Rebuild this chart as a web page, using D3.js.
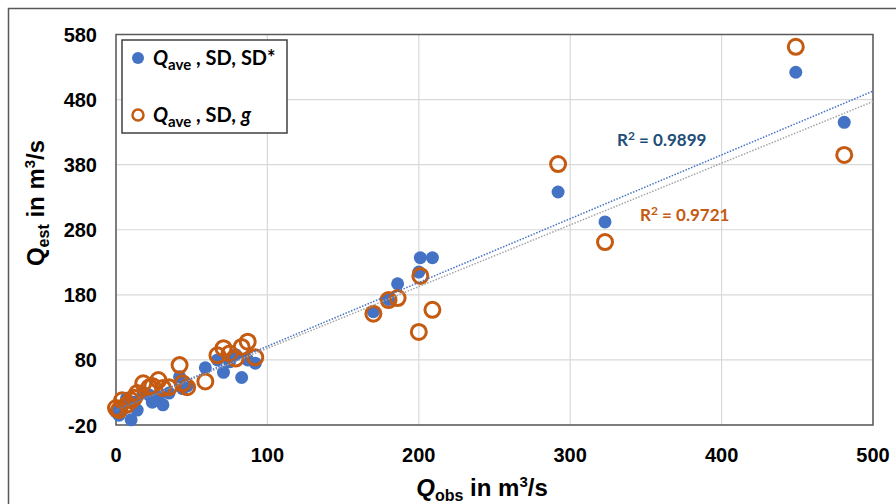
<!DOCTYPE html>
<html>
<head>
    <title>Qest vs Qobs</title>
</head>
<body style="margin:0">
<style type="text/css">
    body { background: #fff; }
    #renderer { width: 896px; height: 504px; background: #fff; display: block; }
    .tick-label { font-family: "Liberation Sans", Arial, sans-serif; font-weight: bold; font-size: 20px; fill: #000; }
    .title { font-family: "Liberation Sans", Arial, sans-serif; font-weight: bold; font-size: 24px; fill: #000; }
    .legend { font-family: Lato, "Open Sans", sans-serif; font-weight: bold; font-size: 20px; fill: #000; }
    .r2 { font-family: Lato, "Open Sans", sans-serif; font-weight: bold; font-size: 17px; }
</style>
<script type="text/javascript" src="https://cdnjs.cloudflare.com/ajax/libs/d3/7.8.5/d3.min.js"></script>
<svg id="renderer"></svg>

<script type="text/javascript">
    // observed discharge (shared by both series)
    var qObs = [449, 481, 292, 323, 201, 200, 209, 186, 180, 170,
                92, 87, 83, 75, 71, 67, 79, 59, 42, 44, 47,
                35, 31, 28, 24, 22, 18, 14, 12, 10, 7, 4, 2, 0];
    // estimate with Qave, SD, SD*
    var qSD = [522, 445, 338, 292, 237, 215, 237, 197, 173, 154,
               75, 80, 53, 77, 61, 80, 88, 68, 54, 36, 40,
               29, 11, 23, 15, 26, 30, 3, 15, -12, 21, 2, -5, 0];
    // estimate with Qave, SD, g
    var qG = [561, 395, 381, 261, 209, 123, 157, 175, 172, 151,
              84, 108, 100, 90, 98, 87, 82, 47, 72, 44, 38,
              38, 37, 49, 40, 38, 44, 29, 22, 18, 11, 18, 3, 6];

    var xTicks = [0, 100, 200, 300, 400, 500];
    var yTicks = [-20, 80, 180, 280, 380, 480, 580];

    // trend lines: [intercept, slope]
    var trendSD = [3, 0.98];
    var trendG = [3, 0.948];
    var r2Values = ['0.9899', '0.9721'];

    var root = d3.select('#renderer');

    var plotLeft = 116, plotRight = 873, plotTop = 34.5, plotBottom = 425;

    var x = d3.scaleLinear().domain([0, 500]).range([plotLeft, plotRight]);
    var y = d3.scaleLinear().domain([-20, 580]).range([plotBottom, plotTop]);

    var blue = '#4472C4';
    var orange = '#C55A11';

    // outer chart frame
    root.append('rect')
        .attr('x', 8.5).attr('y', 8.5)
        .attr('width', 920).attr('height', 520)
        .attr('fill', 'none')
        .attr('stroke', '#595959')
        .attr('stroke-width', 1.5);

    // grid
    root.selectAll('.vgrid').data(xTicks).enter().append('line')
        .attr('x1', function (d) { return x(d); })
        .attr('x2', function (d) { return x(d); })
        .attr('y1', plotTop).attr('y2', plotBottom)
        .attr('stroke', '#d9d9d9').attr('stroke-width', 1.2);

    root.selectAll('.hgrid').data(yTicks).enter().append('line')
        .attr('x1', plotLeft).attr('x2', plotRight)
        .attr('y1', function (d) { return y(d); })
        .attr('y2', function (d) { return y(d); })
        .attr('stroke', '#d9d9d9').attr('stroke-width', 1.2);

    // plot frame
    root.append('rect')
        .attr('x', plotLeft).attr('y', plotTop)
        .attr('width', plotRight - plotLeft).attr('height', plotBottom - plotTop)
        .attr('fill', 'none')
        .attr('stroke', '#595959')
        .attr('stroke-width', 1.5);

    // tick labels
    root.selectAll('.xlab').data(xTicks).enter().append('text')
        .attr('class', 'tick-label')
        .attr('x', function (d) { return x(d); })
        .attr('y', 462)
        .attr('text-anchor', 'middle')
        .text(function (d) { return d; });

    root.selectAll('.ylab').data(yTicks).enter().append('text')
        .attr('class', 'tick-label')
        .attr('x', 97)
        .attr('y', function (d) { return y(d) + 7.5; })
        .attr('text-anchor', 'end')
        .text(function (d) { return d; });

    // axis titles
    var xt = root.append('text').attr('class', 'title')
        .attr('x', 482).attr('y', 496).attr('text-anchor', 'middle');
    xt.append('tspan').attr('font-style', 'italic').text('Q');
    xt.append('tspan').attr('font-size', 16).attr('dy', 5).text('obs');
    xt.append('tspan').attr('dy', -5).text(' in m');
    xt.append('tspan').attr('font-size', 15).attr('dy', -9).text('3');
    xt.append('tspan').attr('dy', 9).text('/s');

    var yt = root.append('text').attr('class', 'title')
        .attr('transform', 'translate(44,203) rotate(-90)')
        .attr('text-anchor', 'middle');
    yt.append('tspan').text('Q');
    yt.append('tspan').attr('font-size', 16).attr('dy', 5).text('est');
    yt.append('tspan').attr('dy', -5).text(' in m');
    yt.append('tspan').attr('font-size', 15).attr('dy', -9).text('3');
    yt.append('tspan').attr('dy', 9).text('/s');

    // points
    root.selectAll('.pSD').data(qObs).enter().append('circle')
        .attr('cx', function (d) { return x(d); })
        .attr('cy', function (d, i) { return y(qSD[i]); })
        .attr('r', 6.5)
        .attr('fill', blue);

    root.selectAll('.pG').data(qObs).enter().append('circle')
        .attr('cx', function (d) { return x(d); })
        .attr('cy', function (d, i) { return y(qG[i]); })
        .attr('r', 7.5)
        .attr('fill', 'none')
        .attr('stroke', orange)
        .attr('stroke-width', 3);

    // trend lines
    function drawTrend(coef, color) {
        root.append('line')
            .attr('x1', x(0)).attr('y1', y(coef[0]))
            .attr('x2', x(500)).attr('y2', y(coef[0] + coef[1] * 500))
            .attr('stroke', color)
            .attr('stroke-width', 1.5)
            .attr('stroke-dasharray', '1.5,1.5');
    }
    drawTrend(trendG, '#A5A5A5');
    drawTrend(trendSD, blue);

    function r2Label(px, py, value, color) {
        var t = root.append('text').attr('class', 'r2')
            .attr('x', px).attr('y', py).attr('fill', color);
        t.append('tspan').text('R');
        t.append('tspan').attr('font-size', 12).attr('dy', -6).text('2');
        t.append('tspan').attr('dy', 6).text(' = ' + value);
    }
    r2Label(617, 146, r2Values[0], '#1F4E79');
    r2Label(640, 221, r2Values[1], orange);

    // legend
    root.append('rect')
        .attr('x', 122).attr('y', 40)
        .attr('width', 165).attr('height', 93)
        .attr('fill', '#fff')
        .attr('stroke', '#404040')
        .attr('stroke-width', 1.5);

    root.append('circle').attr('cx', 138).attr('cy', 58).attr('r', 6).attr('fill', blue);
    root.append('circle').attr('cx', 138).attr('cy', 115).attr('r', 5.5)
        .attr('fill', 'none').attr('stroke', orange).attr('stroke-width', 2.5);

    var l1 = root.append('text').attr('class', 'legend').attr('x', 153).attr('y', 65);
    l1.append('tspan').attr('font-style', 'italic').text('Q');
    l1.append('tspan').attr('font-size', 15).attr('dy', 5).text('ave');
    l1.append('tspan').attr('dy', -5).text(' , SD, SD*');

    var l2 = root.append('text').attr('class', 'legend').attr('x', 153).attr('y', 122);
    l2.append('tspan').attr('font-style', 'italic').text('Q');
    l2.append('tspan').attr('font-size', 15).attr('dy', 5).text('ave');
    l2.append('tspan').attr('dy', -5).text(' , SD, ');
    l2.append('tspan').attr('font-style', 'italic').text('g');
</script>
</body>
</html>
